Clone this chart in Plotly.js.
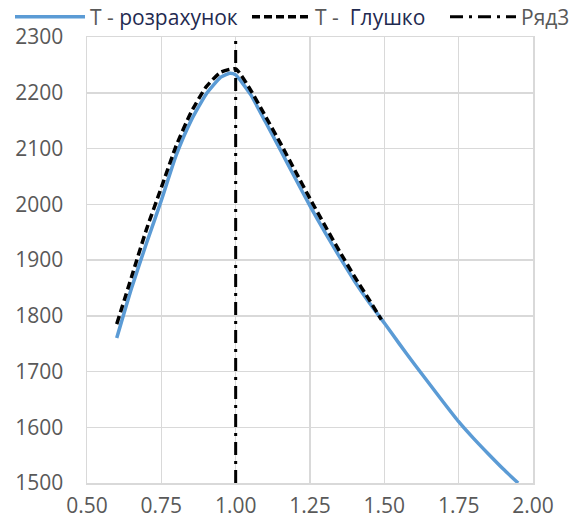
<!DOCTYPE html>
<html>
<head>
<meta charset="utf-8">
<script src="https://cdn.plot.ly/plotly-3.0.1.min.js"></script>
<style>html,body{margin:0;padding:0;background:#fff;}#chart{width:573px;height:525px;}</style>
</head>
<body>
<div id="chart"></div>
<script>
// Т - розрахунок (calculated)
const xCalc = [0.60,0.65,0.70,0.75,0.80,0.85,0.90,0.95,0.98,1.00,1.05,1.10,1.15,1.20,1.25,1.30,1.35,1.40,1.45,1.50,1.55,1.60,1.65,1.70,1.75,1.80,1.85,1.90,1.95];
const yCalc = [1760,1850,1930,2007,2088,2150,2197,2228,2235,2232,2197,2148,2098,2047,1997,1950,1905,1862,1823,1787,1750,1714,1679,1644,1610,1580,1552,1525,1500];
// Т - Глушко
const xGl = [0.60,0.65,0.70,0.75,0.80,0.85,0.90,0.95,1.00,1.05,1.10,1.15,1.20,1.25,1.30,1.35,1.40,1.45,1.49];
const yGl = [1785,1870,1955,2030,2105,2165,2210,2237,2243,2205,2158,2110,2060,2010,1962,1915,1870,1828,1793];
// Ряд3 (vertical marker at x = 1)
const xR3 = [1.00,1.00];
const yR3 = [1500,2300];
const names = ['Т - <span style="color:#1f2a50">розрахунок</span>','Т -  <span style="color:#1f2a50">Глушко</span>','Ряд3'];
const xTicks = [0.5,0.75,1.0,1.25,1.5,1.75,2.0];
const xTickText = ['0.50','0.75','1.00','1.25','1.50','1.75','2.00'];
const yTicks = [1500,1600,1700,1800,1900,2000,2100,2200,2300];

const txtColor = '#595959';
const fontFam = '"Open Sans", "Noto Sans", sans-serif';
const traces = [
  {x:xCalc, y:yCalc, name:names[0], legend:'legend', mode:'lines', line:{color:'#5B9BD5', width:3.5, shape:'spline', smoothing:0.5}},
  {x:xGl, y:yGl, name:names[1], legend:'legend2', mode:'lines', line:{color:'#000000', width:3.5, dash:'8px,4px', shape:'spline', smoothing:0.5}},
  {x:xR3, y:yR3, name:names[2], legend:'legend3', mode:'lines', line:{color:'#000000', width:3, dash:'13px,6px,3px,6px'}}
];
function leg(x, w) {
  return {orientation:'h', xref:'container', yref:'container', x:x, y:1 - 17/525, xanchor:'left', yanchor:'middle',
          font:{family:fontFam, size:21, color:txtColor}, itemwidth:w, bgcolor:'rgba(0,0,0,0)', borderwidth:0};
}
const layout = {
  width:573, height:525,
  margin:{l:87, r:40, t:37, b:42, autoexpand:false},
  paper_bgcolor:'#ffffff', plot_bgcolor:'#ffffff',
  font:{family:fontFam, size:21, color:txtColor},
  showlegend:true,
  legend:leg(10/573, 70),
  legend2:leg(247/573, 58),
  legend3:leg(445/573, 66),
  xaxis:{range:[0.5,2.0], tickvals:xTicks, ticktext:xTickText, showgrid:true, gridcolor:'#d9d9d9', gridwidth:1.5,
         zeroline:false, showline:true, linecolor:'#d9d9d9', linewidth:1.5, mirror:true, ticks:'', ticklabelstandoff:3,
         tickfont:{family:fontFam, size:21, color:txtColor}, fixedrange:true},
  yaxis:{range:[1500,2300], tickvals:yTicks, showgrid:true, gridcolor:'#d9d9d9', gridwidth:1.5,
         zeroline:false, showline:true, linecolor:'#d9d9d9', linewidth:1.5, mirror:true, ticks:'', ticklabelstandoff:18,
         tickfont:{family:fontFam, size:21, color:txtColor}, fixedrange:true}
};
Plotly.newPlot('chart', traces, layout, {displayModeBar:false, staticPlot:true});
</script>
</body>
</html>
